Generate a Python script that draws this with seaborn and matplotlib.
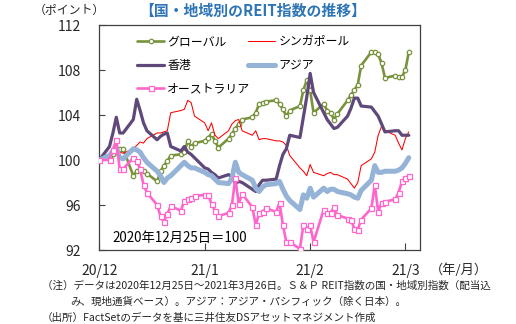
import numpy as np
import pandas as pd
import matplotlib
matplotlib.use("Agg")
import matplotlib.pyplot as plt
import matplotlib.dates as mdates
import seaborn as sns

# ---- data ----
dates = pd.bdate_range("2020-12-25", "2021-03-26")

global_idx = [100.0, 100.2, 100.5, 100.8, 101.0, 101.0, 98.6, 99.0, 99.2, 99.0,
              98.8, 98.1, 99.0, 99.5, 99.9, 100.4, 100.5, 100.7, 101.7, 101.2,
              101.5, 101.7, 102.0, 102.3, 101.7, 101.1, 101.9, 102.3, 102.8, 103.2,
              103.6, 103.8, 104.2, 105.0, 105.1, 105.2, 105.3, 105.0, 104.5, 103.9,
              104.4, 104.8, 106.2, 107.1, 106.2, 104.2, 105.0, 104.4, 104.2, 103.6,
              104.1, 105.3, 105.8, 106.2, 106.7, 108.4, 109.6, 109.6, 109.4, 108.6,
              107.3, 107.5, 107.4, 107.4, 108.0, 109.6]
singapore = [100.0, 100.5, 100.6, 100.8, 100.7, 100.6, 101.0, 101.3, 101.6, 101.5,
             101.9, 102.4, 102.4, 102.5, 102.6, 104.2, 104.4, 104.5, 105.3, 105.1,
             103.9, 103.3, 102.6, 103.3, 102.2, 101.9, 102.6, 103.2, 103.5, 103.6,
             102.6, 102.2, 102.6, 101.8, 101.9, 101.9, 101.7, 101.7, 101.6, 101.3,
             100.4, 99.3, 99.0, 98.6, 99.6, 98.9, 98.6, 98.8, 98.9, 98.7,
             98.7, 98.3, 97.9, 97.5, 98.0, 99.5, 100.1, 100.7, 102.2, 103.0,
             102.6, 102.2, 101.5, 100.9, 101.9, 102.5]
hongkong = [100.0, 101.2, 102.4, 103.8, 102.4, 102.4, 103.6, 105.4, 104.4, 103.3,
            102.6, 101.8, 102.1, 102.3, 102.4, 101.2, 100.8, 101.2, 100.7, 100.5,
            100.2, 99.3, 99.2, 98.9, 98.7, 98.4, 98.7, 98.5, 97.9, 98.1,
            98.0, 97.4, 97.2, 97.8, 98.2, 98.2, 98.3, 99.5, 100.5, 101.0,
            102.2, 102.0, 103.8, 105.6, 107.7, 106.0, 104.2, 103.6, 103.2, 102.8,
            102.9, 103.9, 104.6, 105.5, 105.5, 104.8, 104.7, 104.3, 103.9, 103.2,
            102.5, 102.6, 102.6, 102.2, 102.2, 102.2]
asia = [100.0, 100.4, 100.8, 101.1, 100.2, 100.1, 101.0, 100.9, 100.7, 100.2,
        99.8, 99.0, 98.6, 98.0, 98.4, 98.6, 99.5, 99.8, 99.5, 99.3,
        99.3, 98.9, 98.7, 98.6, 98.3, 98.0, 97.9, 98.4, 99.8, 98.9,
        98.7, 98.2, 97.5, 97.2, 97.6, 97.8, 97.9, 98.1, 97.4, 96.8,
        96.4, 95.6, 96.9, 96.6, 97.5, 96.7, 97.5, 97.2, 97.4, 97.4,
        97.2, 97.0, 96.9, 96.7, 96.6, 97.3, 98.2, 99.5, 98.9, 98.9,
        99.0, 99.0, 99.1, 99.3, 99.7, 100.2]
australia = [100.0, 100.0, 100.9, 101.8, 99.2, 99.2, 100.2, 99.9, 99.2, 97.8,
             97.1, 96.0, 95.0, 94.5, 95.2, 95.9, 95.5, 96.4, 96.5, 96.6,
             96.8, 96.9, 96.9, 96.1, 95.5, 95.0, 95.3, 96.0, 98.4, 96.1,
             97.0, 95.8, 94.2, 95.3, 95.4, 95.7, 95.4, 96.2, 94.2, 92.7,
             92.7, 92.1, 94.2, 93.9, 94.2, 92.7, 95.6, 95.3, 95.3, 95.8,
             95.1, 94.8, 94.7, 93.9, 93.8, 94.7, 95.7, 97.8, 95.4, 96.2,
             96.3, 96.5, 97.1, 98.1, 98.4, 98.6]

series_names = ["グローバル", "シンガポール", "香港", "アジア", "オーストラリア"]
xtick_dates = ["2020-12-25", "2021-01-25", "2021-02-25", "2021-03-25"]
xtick_labels = ["20/12", "21/1", "21/2", "21/3"]
yticks = [92, 96, 100, 104, 108, 112]

# ---- style ----
sns.set_theme(style="white")
plt.rcParams["font.family"] = ["Noto Sans CJK JP", "DejaVu Sans"]
TXT = "#262626"

fig = plt.figure(figsize=(5.16, 3.24), dpi=100)
ax = fig.add_axes([99.3 / 516, 74 / 324, 320.7 / 516, 225 / 324])

styles = [
    dict(color="#77933C", lw=1.9, marker="o", ms=3.2, mfc="white", mec="#77933C", mew=0.9, zorder=2),
    dict(color="#FF0000", lw=0.75, zorder=3),
    dict(color="#5F497A", lw=2.3, zorder=4),
    dict(color="#95B3D7", lw=3.6, zorder=5),
    dict(color="#FF66CC", lw=1.9, marker="s", ms=3.6, mfc="white", mec="#FF66CC", mew=0.9, zorder=6),
]
data = [global_idx, singapore, hongkong, asia, australia]
handles = []
for name, vals, st in zip(series_names, data, styles):
    st = dict(st)
    z = st.pop("zorder")
    sns.lineplot(x=dates, y=vals, ax=ax, label=name, zorder=z, **st)
    handles.append(ax.get_lines()[-1])

t0 = mdates.date2num(pd.Timestamp("2020-12-25"))
ax.set_xlim(t0, t0 + 94.3)
ax.set_ylim(92, 112)
ax.set_xticks([mdates.date2num(pd.Timestamp(d)) for d in xtick_dates])
ax.set_xticklabels(xtick_labels)
ax.set_yticks(yticks)
ax.set_yticklabels([str(v) for v in yticks])
ax.set_xlabel("")
ax.set_ylabel("")
ax.tick_params(axis="y", direction="in", length=4, width=0.8, color="#404040",
               pad=13, labelsize=10, labelcolor=TXT, left=True)
ax.tick_params(axis="x", direction="in", length=5, width=0.8, color="#404040",
               pad=10, labelsize=10, labelcolor=TXT, bottom=True)
for s in ax.spines.values():
    s.set_color("#404040")
    s.set_linewidth(0.9)

# legend: two columns placed separately like the original
leg_kw = dict(frameon=False, loc="upper left", borderpad=0, borderaxespad=0,
              handlelength=2.3, handletextpad=0.25, labelspacing=0.9,
              fontsize=8.6, numpoints=1)
col1 = [0, 2, 4]
col2 = [1, 3]
leg1 = ax.legend([handles[i] for i in col1], [series_names[i] for i in col1],
                 bbox_to_anchor=((137 - 99.3) / 320.7, 0.955), **leg_kw)
ax.add_artist(leg1)
leg2 = ax.legend([handles[i] for i in col2], [series_names[i] for i in col2],
                 bbox_to_anchor=((248 - 99.3) / 320.7, 0.955), **leg_kw)
for lg in (leg1, leg2):
    for t in lg.get_texts():
        t.set_color("black")

ax.text(0.04, 0.055, "2020年12月25日＝100", transform=ax.transAxes,
        fontsize=9.6, color="black", ha="left", va="center")

# titles and notes
fig.text(253 / 516, 1 - 11 / 324, "【国・地域別のREIT指数の推移】", ha="center", va="center",
         fontsize=10.7, fontweight="bold", color="#2E75B6")
fig.text(69 / 516, 1 - 10 / 324, "（ポイント）", ha="center", va="center", fontsize=8.6, color=TXT)
fig.text(459 / 516, 1 - 270 / 324, "（年/月）", ha="center", va="center", fontsize=9.5, color=TXT)

notes = [
    (42, 286, "（注）データは2020年12月25日～2021年3月26日。Ｓ＆Ｐ REIT指数の国・地域別指数（配当込"),
    (70, 302, "み、現地通貨ベース）。アジア：アジア・パシフィック（除く日本）。"),
    (42, 318, "（出所）FactSetのデータを基に三井住友DSアセットマネジメント作成"),
]
for x, y, s in notes:
    fig.text(x / 516, 1 - y / 324, s, ha="left", va="center", fontsize=7.6, color=TXT)

fig.savefig("out.png", dpi=100)
